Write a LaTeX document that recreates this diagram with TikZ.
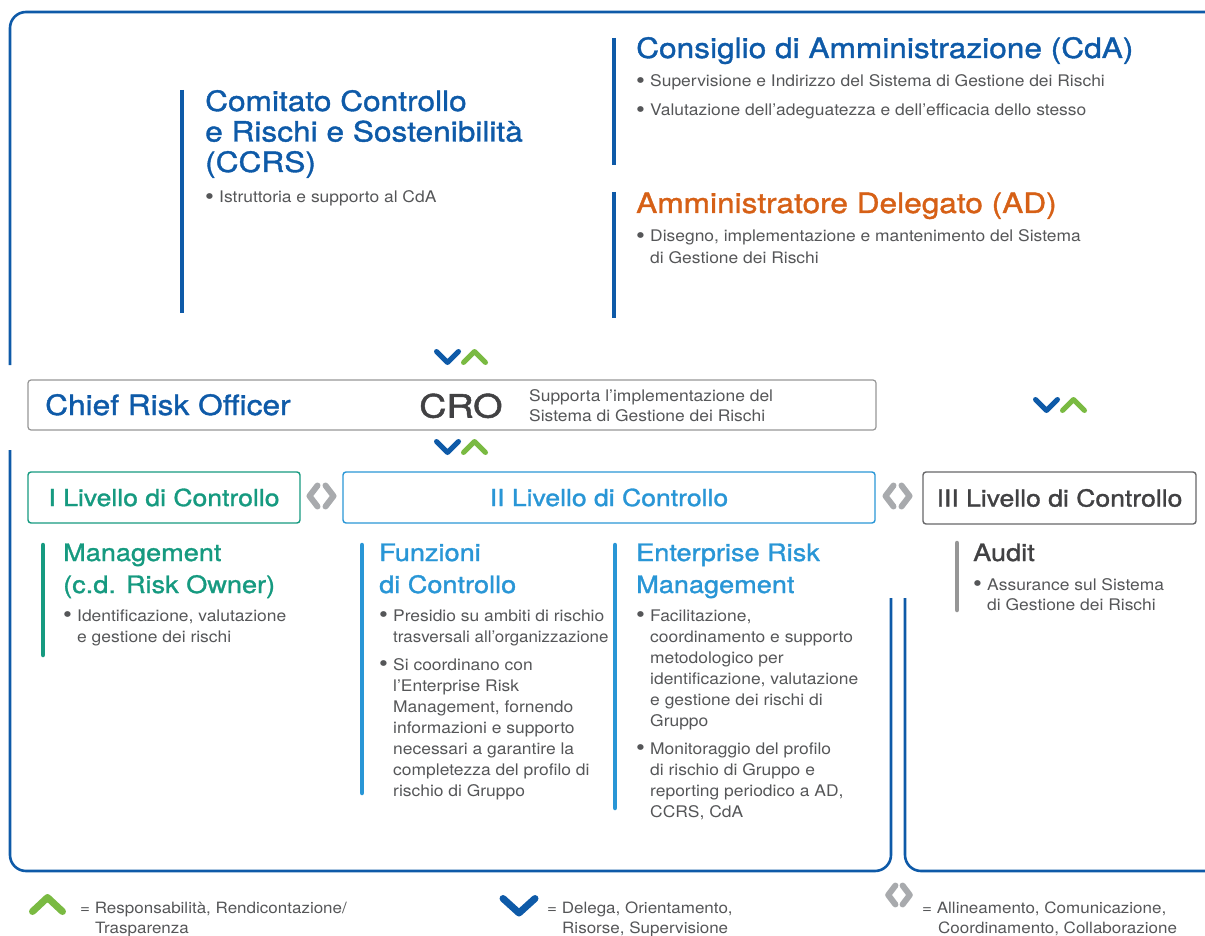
\documentclass[tikz,border=0pt]{standalone}
\usepackage{fontspec}
\setmainfont{TeX Gyre Heros}[FakeStretch=1.09]
\newfontfamily\ttlfont{TeX Gyre Heros}[FakeStretch=1.13, FakeBold=1.3]
\newfontfamily\crofont{TeX Gyre Heros}[FakeStretch=1.18, FakeBold=1.6]
\definecolor{cblue}{RGB}{14,90,168}
\definecolor{corange}{RGB}{214,96,22}
\definecolor{cteal}{RGB}{22,154,128}
\definecolor{clblue}{RGB}{41,150,214}
\definecolor{cgreen}{RGB}{122,186,66}
\definecolor{cgrayc}{RGB}{168,170,173}
\definecolor{ctext}{RGB}{85,86,88}
\definecolor{cdark}{RGB}{65,65,67}
\definecolor{cboxgray}{RGB}{150,150,150}
\newcommand\lines[1]{\begin{tabular}[t]{@{}l@{}}#1\end{tabular}}
\newcommand\bu{\makebox[14pt][l]{\raisebox{-1.6pt}{\scalebox{1.45}{\textbullet}}}}
\newcommand\ind{\hspace*{14pt}}
\tikzset{
  frame/.style={draw=cblue, line width=2.6pt, rounded corners=16pt},
  bar/.style={line width=4.5pt},
  body/.style={font=\fontsize{16}{21}\selectfont, text=ctext, anchor=base west, inner sep=0pt},
  legtext/.style={font=\fontsize{15.6}{20}\selectfont, text=ctext, anchor=base west, inner sep=0pt},
  ttl/.style={font=\ttlfont\fontsize{28}{30.5}\selectfont, anchor=base west, inner sep=0pt},
  sub/.style={font=\ttlfont\fontsize{24}{32}\selectfont, anchor=base west, inner sep=0pt},
  lvl/.style={draw, line width=1.4pt, rounded corners=3pt, minimum height=51pt, inner sep=0pt,
              font=\ttlfont\fontsize{23.5}{26}\selectfont},
  chev/.style={line width=5pt, line cap=round, line join=round},
  vapair/.pic={
    \draw[chev, cblue] (-24.5,-5.5) -- (-13.5,5.5) -- (-2.5,-5.5);
    \draw[chev, cgreen] (2.5,5.5) -- (13.5,-5.5) -- (24.5,5.5);
  },
  ltgt/.pic={
    \draw[chev, cgrayc, line width=6pt] (-4,-10.5) -- (-12,0) -- (-4,10.5);
    \draw[chev, cgrayc, line width=6pt] (4,-10.5) -- (12,0) -- (4,10.5);
  },
}
\begin{document}
\begin{tikzpicture}[x=1pt, y=-1pt]
\useasboundingbox (0,0) rectangle (1205,936);

% outer frames
\draw[frame] (10,365) -- (10,12) -- (1210,12);
\draw[frame] (10,450) -- (10,871) -- (891,871) -- (891,598);
\draw[frame] (905,598) -- (905,871) -- (1210,871);

% vertical bars
\draw[bar, cblue] (182,90) -- (182,313);
\draw[bar, cblue] (614,38) -- (614,165);
\draw[bar, cblue] (614,192) -- (614,318);
\draw[bar, cteal, line cap=round] (43,545) -- (43,655);
\draw[bar, clblue, line cap=round] (362,545) -- (362,793);
\draw[bar, clblue, line cap=round] (615,545) -- (615,808);
\draw[bar, cboxgray, line cap=round] (957,543) -- (957,610);

% CCRS
\node[ttl, text=cblue] (ccrs) at (205,111) {\lines{Comitato Controllo\\e Rischi e Sostenibilità\\(CCRS)}};
\node[body] (ccrsb) at (205,203) {\bu Istruttoria e supporto al CdA};

% CdA
\node[ttl, text=cblue] (cda) at (636,58) {Consiglio di Amministrazione (CdA)};
\node[body] (cdab1) at (636,87) {\bu Supervisione e Indirizzo del Sistema di Gestione dei Rischi};
\node[body] (cdab2) at (636,116) {\bu Valutazione dell’adeguatezza e dell’efficacia dello stesso};

% AD
\node[ttl, text=corange] (ad) at (636,213) {Amministratore Delegato (AD)};
\node[body] (adb) at (636,242) {\lines{\bu Disegno, implementazione e mantenimento del Sistema\\\ind di Gestione dei Rischi}};

% CRO
\pic (va1) at (461,357) {vapair};
\node[draw=cboxgray, line width=1.2pt, rounded corners=3pt, minimum width=848pt, minimum height=50pt, inner sep=0pt] (crobox) at (452,405) {};
\node[ttl, text=cblue] (cro1) at (45,415) {Chief Risk Officer};
\node[font=\crofont\fontsize{32}{34}\selectfont, text=cdark, anchor=base west, inner sep=0pt] (cro2) at (419,417.5) {CRO};
\node[body] (cro3) at (529,401) {\lines{Supporta l’implementazione del\\[-1pt]Sistema di Gestione dei Rischi}};
\pic (va2) at (461,447) {vapair};
\pic (va3) at (1060,405) {vapair};

% levels
\node[lvl, draw=cteal, text=cteal, minimum width=272pt] (l1) at (164,497.5) {I Livello di Controllo};
\pic (lg1) at (321.5,496) {ltgt};
\node[lvl, draw=clblue, text=clblue, minimum width=532pt] (l2) at (609,497.5) {II Livello di Controllo};
\pic (lg2) at (897.5,496) {ltgt};
\node[lvl, draw=cdark!80, text=cdark, minimum width=273pt, minimum height=52pt] (l3) at (1059.5,498) {III Livello di Controllo};

% Management
\node[sub, text=cteal] (mgt) at (63,561) {\lines{Management\\(c.d. Risk Owner)}};
\node[body] (mgtb) at (63,621) {\lines{\bu Identificazione, valutazione\\\ind e gestione dei rischi}};

% Funzioni di Controllo
\node[sub, text=clblue] (fdc) at (379,561) {\lines{Funzioni\\di Controllo}};
\node[body] (fdcb1) at (379,621) {\lines{\bu Presidio su ambiti di rischio\\\ind \scalebox{0.97}[1]{trasversali all'organizzazione}}};
\node[body] (fdcb2) at (379,670) {\lines{\bu Si coordinano con\\\ind l’Enterprise Risk\\\ind Management, fornendo\\\ind informazioni e supporto\\\ind necessari a garantire la\\\ind completezza del profilo di\\\ind rischio di Gruppo}};

% ERM
\node[sub, text=clblue] (erm) at (636,561) {\lines{Enterprise Risk\\Management}};
\node[body] (ermb1) at (636,621) {\lines{\bu Facilitazione,\\\ind coordinamento e supporto\\\ind metodologico per\\\ind identificazione, valutazione\\\ind e gestione dei rischi di\\\ind Gruppo}};
\node[body] (ermb2) at (636,754) {\lines{\bu Monitoraggio del profilo\\\ind di rischio di Gruppo e\\\ind reporting periodico a AD,\\\ind CCRS, CdA}};

% Audit
\node[sub, text=cdark] (aud) at (973,561) {Audit};
\node[body] (audb) at (973,590) {\lines{\bu Assurance sul Sistema\\[-1pt]\ind di Gestione dei Rischi}};

% legend
\draw[chev, cgreen, line width=7pt] (32.5,911.5) -- (47.5,897.5) -- (62.5,911.5);
\node[legtext] (leg1) at (80,913) {\lines{= Responsabilità, Rendicontazione/\\\hspace*{15pt}Trasparenza}};
\draw[chev, cblue, line width=7pt] (503,898.5) -- (519,913) -- (535,898.5);
\node[legtext] (leg2) at (547,913) {\lines{= Delega, Orientamento,\\\hspace*{15pt}Risorse, Supervisione}};
\pic[scale=0.9] (lg3) at (899,895) {ltgt};
\node[legtext] (leg3) at (922,913) {\lines{= Allineamento, Comunicazione,\\\hspace*{16pt}Coordinamento, Collaborazione}};
\end{tikzpicture}
\end{document}
